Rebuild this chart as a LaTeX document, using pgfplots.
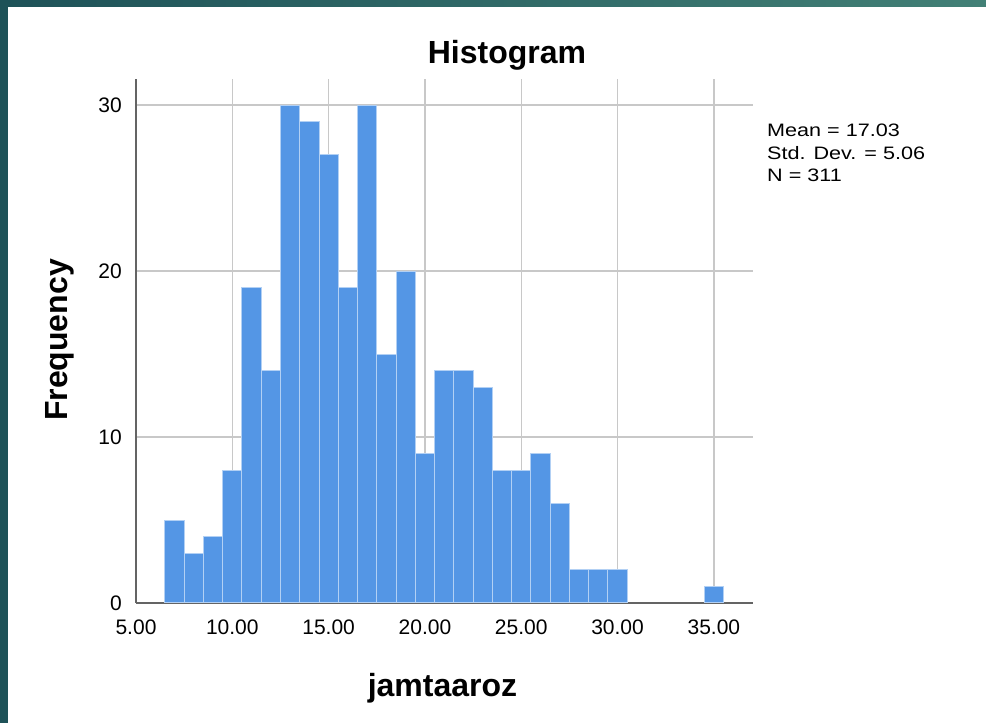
\documentclass[border=0pt]{standalone}
\usepackage{fontspec}
\setmainfont{Liberation Sans}
\newfontfamily\statsfont[FakeStretch=1.2]{Liberation Sans}
\usepackage{pgfplots}
\pgfplotsset{compat=1.18}
\definecolor{barblue}{RGB}{84,150,229}
\definecolor{baredge}{RGB}{178,208,244}
\definecolor{gridgray}{RGB}{200,200,200}
\definecolor{axisgray}{RGB}{100,100,100}
\definecolor{tealA}{RGB}{30,82,88}
\definecolor{tealB}{RGB}{66,128,118}
\begin{document}
\begin{tikzpicture}[x=1pt,y=1pt]
\useasboundingbox (0,0) rectangle (986,723);
\shade[left color=tealA, right color=tealB] (0,0) rectangle (986,723);
\fill[white] (8,0) rectangle (986,716);
\begin{axis}[
  at={(136pt,120pt)}, anchor=south west,
  scale only axis, width=617pt, height=524pt,
  xmin=5, xmax=37.03, ymin=0, ymax=31.57,
  axis lines*=left,
  axis line style={axisgray, line width=1.5pt},
  grid=major, major grid style={gridgray, line width=1.2pt},
  xtick={5,10,...,35},
  xticklabels={5.00,10.00,15.00,20.00,25.00,30.00,35.00},
  ytick={0,10,20,30},
  tick style={draw=none},
  /pgf/number format/assume math mode=true,
  xticklabel style={anchor=north, inner sep=0pt, yshift=-17pt, font=\fontsize{21}{21}\selectfont},
  yticklabel style={anchor=east, inner sep=0pt, xshift=-14pt, font=\fontsize{21}{21}\selectfont},
  clip=false,
]
\addplot[ybar, bar width=1, bar shift=0pt, fill=barblue, draw=baredge, line width=1pt]
  coordinates {(7,5) (8,3) (9,4) (10,8) (11,19) (12,14) (13,30) (14,29) (15,27)
  (16,19) (17,30) (18,15) (19,20) (20,9) (21,14) (22,14) (23,13) (24,8) (25,8)
  (26,9) (27,6) (28,2) (29,2) (30,2) (35,1)};
\end{axis}
\node[anchor=base, inner sep=0pt, font=\fontsize{32}{32}\selectfont\bfseries] at (507,659) {Histogram};
\node[anchor=base, inner sep=0pt, font=\fontsize{32}{32}\selectfont\bfseries] at (442.5,26) {jamtaaroz};
\node[anchor=base, inner sep=0pt, rotate=90, font=\fontsize{32}{32}\selectfont\bfseries] at (67,383) {Frequency};
\node[anchor=base west, inner sep=0pt, font=\statsfont\fontsize{18}{18}\selectfont] at (767,586) {Mean = 17.03};
\node[anchor=base west, inner sep=0pt, font=\statsfont\fontsize{18}{18}\selectfont] at (767,563.5) {Std. Dev. = 5.06};
\node[anchor=base west, inner sep=0pt, font=\statsfont\fontsize{18}{18}\selectfont] at (767,541) {N = 311};
\end{tikzpicture}
\end{document}
